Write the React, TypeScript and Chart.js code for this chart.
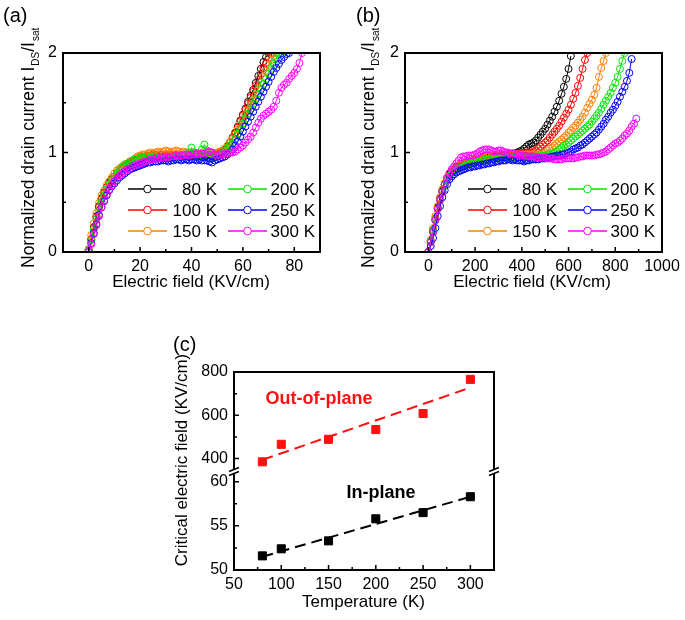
import React, { useEffect, useRef } from 'react';
import { Chart, registerables } from 'chart.js';

Chart.register(...registerables);

const FONT = '"Liberation Sans", Arial, Helvetica, sans-serif';
Chart.defaults.font.family = FONT;

// ---------- shared legend ----------
const tempLabels = ['80 K', '100 K', '150 K', '200 K', '250 K', '300 K'];
const seriesColors = ['#000000', '#ff0000', '#ff8000', '#00e600', '#0000ff', '#ff00ff'];

// ---------- panel (a): in-plane, field in KV/cm ----------
const fieldA = [
  0, 1, 2, 3, 4, 5, 6, 7, 8, 9, 10, 11, 12, 13, 14, 15, 16, 17, 18, 19,
  20, 21, 22, 23, 24, 25, 26, 27, 28, 29, 30, 31, 32, 33, 34, 35, 36, 37, 38, 39,
  40, 41, 42, 43, 44, 45, 46, 47, 48, 49, 50, 51, 52, 53, 54, 55, 56, 57, 58, 59,
  60, 61, 62, 63, 64, 65, 66, 67, 68, 69, 70, 71, 72, 73, 74, 75, 76, 77, 78, 79,
  80, 81, 82, 83,
];
const a80 = [
  0.02, 0.13, 0.25, 0.36, 0.46, 0.54, 0.6, 0.65, 0.7, 0.73,
  0.76, 0.79, 0.82, 0.84, 0.86, 0.88, 0.89, 0.91, 0.92, 0.93,
  0.94, 0.95, 0.95, 0.96, 0.96, 0.96, 0.97, 0.96, 0.97, 0.97,
  0.96, 0.97, 0.97, 0.96, 0.97, 0.97, 0.97, 0.96, 0.97, 0.97,
  0.96, 0.97, 0.97, 0.96, 0.97, 0.97, 0.96, 0.97, 0.97, 0.98,
  0.98, 0.99, 1.0, 1.03, 1.06, 1.1, 1.15, 1.2, 1.26, 1.32,
  1.38, 1.44, 1.51, 1.57, 1.63, 1.7, 1.77, 1.84, 1.91, 1.96,
  2.0,
];
const a100 = [
  0.02, 0.12, 0.24, 0.35, 0.45, 0.53, 0.59, 0.65, 0.69, 0.73,
  0.76, 0.79, 0.82, 0.84, 0.86, 0.88, 0.9, 0.91, 0.93, 0.94,
  0.95, 0.96, 0.96, 0.97, 0.97, 0.98, 0.97, 0.98, 0.98, 0.97,
  0.98, 0.98, 0.97, 0.98, 0.98, 0.98, 0.97, 0.98, 0.98, 0.97,
  0.98, 0.98, 0.97, 0.98, 0.98, 0.97, 0.97, 0.98, 0.98, 0.98,
  0.99, 1.0, 1.01, 1.03, 1.06, 1.1, 1.14, 1.19, 1.25, 1.31,
  1.37, 1.43, 1.49, 1.55, 1.61, 1.67, 1.73, 1.79, 1.85, 1.9,
  1.95, 2.0,
];
const a150 = [
  0.03, 0.17, 0.29, 0.39, 0.49, 0.57, 0.62, 0.67, 0.71, 0.75,
  0.79, 0.82, 0.84, 0.86, 0.88, 0.89, 0.91, 0.92, 0.94, 0.96,
  0.97, 0.98, 0.98, 0.99, 1.0, 0.99, 1.0, 1.01, 1.0, 1.01,
  1.02, 1.01, 1.0, 1.01, 1.02, 1.01, 1.0, 1.01, 1.0, 0.99,
  1.0, 1.0, 0.99, 1.0, 0.99, 0.99, 0.98, 0.99, 0.98, 0.99,
  1.0, 1.01, 1.02, 1.04, 1.07, 1.1, 1.14, 1.18, 1.23, 1.28,
  1.33, 1.38, 1.43, 1.48, 1.53, 1.58, 1.64, 1.7, 1.76, 1.82,
  1.88, 1.93, 1.97, 2.0,
];
const a200 = [
  0.02, 0.12, 0.23, 0.33, 0.42, 0.5, 0.57, 0.63, 0.68, 0.72,
  0.76, 0.79, 0.82, 0.85, 0.87, 0.89, 0.9, 0.92, 0.93, 0.94,
  0.95, 0.95, 0.96, 0.96, 0.95, 0.96, 0.96, 0.95, 0.95, 0.94,
  0.95, 0.95, 0.94, 0.95, 0.95, 0.95, 0.96, 0.96, 0.97, 1.0,
  1.05, 1.0, 0.96, 0.97, 1.03, 1.08, 1.02, 0.96, 0.95, 0.95,
  0.96, 0.97, 0.99, 1.02, 1.04, 1.07, 1.1, 1.14, 1.19, 1.24,
  1.29, 1.34, 1.39, 1.44, 1.49, 1.54, 1.59, 1.64, 1.69, 1.74,
  1.79, 1.84, 1.89, 1.94, 1.98, 2.0,
];
const a250 = [
  0.0, 0.09, 0.19, 0.28, 0.37, 0.45, 0.51, 0.57, 0.62, 0.66,
  0.69, 0.72, 0.75, 0.77, 0.79, 0.81, 0.83, 0.84, 0.85, 0.86,
  0.87, 0.88, 0.89, 0.9, 0.9, 0.91, 0.91, 0.91, 0.92, 0.92,
  0.92, 0.91, 0.92, 0.92, 0.93, 0.93, 0.92, 0.93, 0.93, 0.92,
  0.93, 0.93, 0.92, 0.93, 0.92, 0.92, 0.92, 0.91, 0.9, 0.92,
  0.93, 0.94, 0.95, 0.96, 0.98, 1.0, 1.03, 1.07, 1.11, 1.16,
  1.21, 1.26, 1.31, 1.36, 1.41, 1.46, 1.51, 1.56, 1.61, 1.66,
  1.71, 1.76, 1.81, 1.85, 1.89, 1.93, 1.96, 1.99, 2.0,
];
const a300 = [
  0.0, 0.08, 0.18, 0.27, 0.36, 0.45, 0.52, 0.58, 0.63, 0.67,
  0.71, 0.74, 0.77, 0.79, 0.81, 0.83, 0.84, 0.86, 0.87, 0.88,
  0.89, 0.9, 0.91, 0.92, 0.93, 0.93, 0.94, 0.94, 0.95, 0.95,
  0.96, 0.95, 0.96, 0.96, 0.97, 0.96, 0.97, 0.97, 0.98, 0.97,
  0.98, 0.98, 0.99, 0.98, 0.99, 0.99, 1.0, 1.01, 1.0, 0.98,
  0.97, 0.98, 0.98, 0.99, 0.99, 1.0, 1.0, 1.01, 1.03, 1.05,
  1.07, 1.1, 1.13, 1.16, 1.2, 1.25, 1.3, 1.34, 1.37, 1.39,
  1.41, 1.43, 1.46, 1.52, 1.6, 1.65, 1.68, 1.7, 1.74, 1.77,
  1.8, 1.84, 1.9, 2.0,
];

// ---------- panel (b): out-of-plane, field in KV/cm ----------
const fieldB = [
  0, 10, 20, 30, 40, 50, 60, 70, 80, 90, 100, 110, 120, 130, 140, 150, 160, 170, 180, 190,
  200, 210, 220, 230, 240, 250, 260, 270, 280, 290, 300, 310, 320, 330, 340, 350, 360, 370, 380, 390,
  400, 410, 420, 430, 440, 450, 460, 470, 480, 490, 500, 510, 520, 530, 540, 550, 560, 570, 580, 590,
  600, 610, 620, 630, 640, 650, 660, 670, 680, 690, 700, 710, 720, 730, 740, 750, 760, 770, 780, 790,
  800, 810, 820, 830, 840, 850, 860, 870, 880, 890,
];
const b80 = [
  0, 0.1, 0.2, 0.32, 0.44, 0.53, 0.61, 0.68, 0.74, 0.78,
  0.81, 0.83, 0.85, 0.86, 0.87, 0.88, 0.89, 0.9, 0.9, 0.91,
  0.92, 0.92, 0.93, 0.93, 0.94, 0.94, 0.95, 0.95, 0.96, 0.96,
  0.97, 0.97, 0.97, 0.98, 0.98, 0.98, 0.99, 0.99, 1.0, 1.01,
  1.02, 1.04, 1.06, 1.08, 1.09, 1.1, 1.12, 1.15, 1.18, 1.21,
  1.24, 1.28, 1.32, 1.36, 1.41, 1.46, 1.52, 1.59, 1.66, 1.74,
  1.84, 1.97,
];
const b100 = [
  0, 0.11, 0.22, 0.34, 0.45, 0.54, 0.62, 0.68, 0.73, 0.77,
  0.8, 0.82, 0.84, 0.85, 0.86, 0.87, 0.88, 0.89, 0.9, 0.9,
  0.91, 0.92, 0.92, 0.93, 0.93, 0.94, 0.94, 0.95, 0.95, 0.95,
  0.96, 0.96, 0.96, 0.97, 0.97, 0.97, 0.98, 0.98, 0.98, 0.99,
  0.99, 0.99, 1.0, 1.0, 1.0, 1.01, 1.02, 1.04, 1.06, 1.08,
  1.1, 1.12, 1.15, 1.18, 1.21, 1.24, 1.27, 1.31, 1.35, 1.39,
  1.43, 1.48, 1.54, 1.6, 1.67, 1.75, 1.84, 1.93, 2.0,
];
const b150 = [
  0, 0.12, 0.24, 0.36, 0.46, 0.55, 0.63, 0.69, 0.75, 0.79,
  0.82, 0.84, 0.86, 0.87, 0.88, 0.89, 0.9, 0.91, 0.92, 0.92,
  0.93, 0.94, 0.94, 0.95, 0.95, 0.96, 0.96, 0.96, 0.97, 0.97,
  0.97, 0.98, 0.98, 0.98, 0.98, 0.98, 0.98, 0.98, 0.98, 0.98,
  0.98, 0.98, 0.98, 0.98, 0.98, 0.98, 0.98, 0.98, 0.98, 0.99,
  1.0, 1.02, 1.04, 1.05, 1.07, 1.09, 1.11, 1.13, 1.15, 1.17,
  1.2, 1.22, 1.25, 1.27, 1.3, 1.33, 1.36, 1.4, 1.45, 1.49,
  1.53, 1.58, 1.65, 1.76, 1.85, 1.92, 2.0,
];
const b200 = [
  0, 0.11, 0.22, 0.33, 0.43, 0.52, 0.6, 0.67, 0.72, 0.76,
  0.79, 0.81, 0.83, 0.84, 0.85, 0.86, 0.87, 0.88, 0.89, 0.9,
  0.9, 0.91, 0.91, 0.92, 0.92, 0.93, 0.93, 0.94, 0.94, 0.94,
  0.95, 0.95, 0.95, 0.95, 0.95, 0.95, 0.95, 0.95, 0.95, 0.95,
  0.95, 0.95, 0.95, 0.95, 0.95, 0.95, 0.96, 0.96, 0.96, 0.97,
  0.97, 0.98, 0.98, 0.99, 1.0, 1.01, 1.03, 1.05, 1.07, 1.08,
  1.1, 1.12, 1.14, 1.16, 1.18, 1.2, 1.22, 1.24, 1.26, 1.28,
  1.31, 1.34, 1.37, 1.4, 1.44, 1.48, 1.52, 1.56, 1.6, 1.65,
  1.7, 1.76, 1.84, 1.92, 2.0,
];
const b250 = [
  0, 0.06, 0.14, 0.24, 0.36, 0.46, 0.55, 0.62, 0.68, 0.73,
  0.76, 0.78, 0.8, 0.81, 0.82, 0.83, 0.84, 0.85, 0.85, 0.86,
  0.86, 0.87, 0.87, 0.88, 0.88, 0.89, 0.89, 0.9, 0.9, 0.91,
  0.91, 0.92, 0.92, 0.92, 0.93, 0.93, 0.92, 0.93, 0.92, 0.92,
  0.92, 0.91, 0.92, 0.92, 0.93, 0.93, 0.93, 0.93, 0.94, 0.94,
  0.94, 0.95, 0.95, 0.96, 0.96, 0.97, 0.97, 0.98, 0.98, 0.99,
  1.0, 1.01, 1.03, 1.04, 1.05, 1.07, 1.08, 1.1, 1.12, 1.14,
  1.16, 1.18, 1.2, 1.23, 1.26, 1.29, 1.33, 1.36, 1.4, 1.43,
  1.47, 1.51, 1.56, 1.61, 1.66, 1.72, 1.8, 1.94,
];
const b300 = [
  0, 0.1, 0.2, 0.32, 0.43, 0.52, 0.6, 0.68, 0.74, 0.79,
  0.83, 0.86, 0.89, 0.92, 0.95, 0.96, 0.96, 0.97, 0.97, 0.97,
  0.98, 0.99, 1.01, 1.02, 1.03, 1.03, 1.03, 1.02, 1.01, 1.01,
  1.02, 1.02, 1.01, 1.0, 1.0, 0.99, 0.99, 0.99, 0.98, 0.97,
  0.97, 0.97, 0.96, 0.96, 0.96, 0.96, 0.95, 0.95, 0.95, 0.95,
  0.95, 0.94, 0.94, 0.94, 0.93, 0.93, 0.93, 0.93, 0.94, 0.94,
  0.94, 0.94, 0.94, 0.95, 0.95, 0.96, 0.96, 0.97, 0.97, 0.97,
  0.97, 0.97, 0.98, 0.98, 0.99, 1.0, 1.01, 1.03, 1.05, 1.07,
  1.09, 1.1, 1.12, 1.14, 1.17, 1.19, 1.22, 1.26, 1.29, 1.34,
];

// ---------- panel (c): critical field vs temperature ----------
const temps = [80, 100, 150, 200, 250, 300];
const outOfPlane = [385, 466, 489, 534, 608, 766];
const inPlane = [51.6, 52.4, 53.3, 55.8, 56.5, 58.3];
const outFitT = [80, 300];
const outFit = [394, 728];
const inFitT = [80, 300];
const inFit = [51.5, 58.3];

// ---------- tick values ----------
const aXMajor = [0, 20, 40, 60, 80];
const aXMinor = [10, 30, 50, 70];
const bXMajor = [0, 200, 400, 600, 800, 1000];
const bXMinor = [100, 300, 500, 700, 900];
const yMajor = [0, 1, 2];
const yMinor = [0.5, 1.5];
const cXMajor = [50, 100, 150, 200, 250, 300];
const cXMinor = [75, 125, 175, 225, 275];
const cUpMajor = [400, 600, 800];
const cUpMinor = [500, 700];
const cLowMajor = [50, 55, 60];
const cLowMinor = [52.5, 57.5];

// ---------- helpers ----------
const setTicks = (major: number[], minor: number[]) => (s: any) => {
  s.ticks = [...major, ...minor].sort((p, q) => p - q).map((v) => ({ value: v }));
};
const labelIf = (major: number[]) => (v: any) => (major.includes(Number(v)) ? String(v) : '');

function axis(min: number, max: number, major: number[], minor: number[], pad: number, extra: any) {
  return {
    type: 'linear',
    min,
    max,
    afterBuildTicks: setTicks(major, minor),
    grid: { display: false, drawTicks: false, tickLength: 0 },
    border: { display: false },
    ticks: {
      autoSkip: false,
      maxRotation: 0,
      minRotation: 0,
      padding: pad,
      color: '#000',
      font: { size: 16, family: FONT },
      callback: labelIf(major),
    },
    ...extra,
  };
}

function drawTickMarks(chart: any, id: string, major: number[], minor: number[]) {
  const s = chart.scales[id];
  const { ctx, chartArea: ca } = chart;
  ctx.save();
  ctx.strokeStyle = '#000';
  ctx.lineWidth = 1.5;
  ctx.beginPath();
  const put = (v: number, len: number) => {
    const p = s.getPixelForValue(v);
    if (s.isHorizontal()) {
      ctx.moveTo(p, ca.bottom);
      ctx.lineTo(p, ca.bottom - len);
    } else {
      ctx.moveTo(ca.left, p);
      ctx.lineTo(ca.left + len, p);
    }
  };
  major.forEach((v) => put(v, 5));
  minor.forEach((v) => put(v, 3));
  ctx.stroke();
  ctx.restore();
}

function drawFrame(chart: any) {
  const { ctx, chartArea: ca } = chart;
  ctx.save();
  ctx.strokeStyle = '#000';
  ctx.lineWidth = 2;
  ctx.strokeRect(ca.left, ca.top, ca.right - ca.left, ca.bottom - ca.top);
  ctx.restore();
}

function text(ctx: any, s: string, x: number, y: number, size: number, opts: any = {}) {
  ctx.save();
  ctx.font = `${opts.bold ? 'bold ' : ''}${size}px ${FONT}`;
  ctx.fillStyle = opts.color || '#000';
  ctx.textAlign = opts.align || 'center';
  ctx.textBaseline = 'middle';
  if (opts.rotate) {
    ctx.translate(x, y);
    ctx.rotate(-Math.PI / 2);
    ctx.fillText(s, 0, 0);
  } else {
    ctx.fillText(s, x, y);
  }
  ctx.restore();
}

function drawCurrentTitle(ctx: any, x: number, y: number) {
  const size = 17.5;
  const parts = [
    { t: 'Normalized drain current I', sub: false },
    { t: 'DS', sub: true },
    { t: '/I', sub: false },
    { t: 'sat', sub: true },
  ];
  ctx.save();
  ctx.translate(x, y);
  ctx.rotate(-Math.PI / 2);
  ctx.fillStyle = '#000';
  ctx.textAlign = 'left';
  ctx.textBaseline = 'alphabetic';
  let cx = 0;
  for (const p of parts) {
    ctx.font = `${p.sub ? 10 : size}px ${FONT}`;
    ctx.fillText(p.t, cx, p.sub ? 4.5 : 0);
    cx += ctx.measureText(p.t).width + (p.t.endsWith('I') && !p.sub ? 1 : 0);
  }
  ctx.restore();
}

function drawLegend(ctx: any) {
  const rows = [189, 210, 231];
  const cols = [
    { x0: 128, x1: 167, tx: 217 },
    { x0: 228, x1: 267, tx: 315 },
  ];
  tempLabels.forEach((lab, i) => {
    const c = cols[Math.floor(i / 3)];
    const y = rows[i % 3];
    const col = seriesColors[i];
    ctx.save();
    ctx.strokeStyle = col;
    ctx.lineWidth = 1.5;
    ctx.beginPath();
    ctx.moveTo(c.x0, y);
    ctx.lineTo(c.x1, y);
    ctx.stroke();
    ctx.beginPath();
    ctx.arc((c.x0 + c.x1) / 2, y, 3.8, 0, Math.PI * 2);
    ctx.fillStyle = '#fff';
    ctx.fill();
    ctx.lineWidth = 1;
    ctx.stroke();
    ctx.restore();
    text(ctx, lab, c.tx, y + 1, 17, { align: 'right' });
  });
}

function curveDatasets(xs: number[], series: number[][]) {
  return series.map((ys, i) => ({
    label: tempLabels[i],
    data: ys.map((y, j) => ({ x: xs[j], y })),
    showLine: true,
    borderColor: seriesColors[i],
    borderWidth: 1,
    pointRadius: 3.5,
    pointBorderWidth: 1,
    pointStyle: 'circle',
    pointBackgroundColor: 'rgba(0,0,0,0)',
    pointBorderColor: seriesColors[i],
    order: series.length - 1 - i,
  }));
}

function curveConfig(
  panel: string,
  xs: number[],
  series: number[][],
  xMin: number,
  xMax: number,
  xMajor: number[],
  xMinor: number[],
  pad: any,
  xTitleX: number,
): any {
  return {
    type: 'scatter',
    data: { datasets: curveDatasets(xs, series) },
    options: {
      responsive: false,
      maintainAspectRatio: false,
      animation: false,
      events: [],
      layout: { padding: pad },
      plugins: { legend: { display: false }, tooltip: { enabled: false } },
      scales: {
        x: axis(xMin, xMax, xMajor, xMinor, 5, { afterFit: (s: any) => { s.height = 30; } }),
        y: axis(0, 2, yMajor, yMinor, 6, { afterFit: (s: any) => { s.width = 40; } }),
      },
    },
    plugins: [
      {
        id: 'decor' + panel,
        afterDraw(chart: any) {
          const ctx = chart.ctx;
          drawFrame(chart);
          drawTickMarks(chart, 'x', xMajor, xMinor);
          drawTickMarks(chart, 'y', yMajor, yMinor);
          drawLegend(ctx);
          text(ctx, 'Electric field (KV/cm)', xTitleX, 282, 17);
          drawCurrentTitle(ctx, 34, 268);
          text(ctx, '(' + panel + ')', panel === 'a' ? 3 : 16, 16, 20, { align: 'left' });
        },
      },
    ],
  };
}

function configA() {
  return curveConfig('a', fieldA, [a80, a100, a150, a200, a250, a300], -10, 90, aXMajor, aXMinor,
    { left: 23, top: 53, right: 20, bottom: 18 }, 191);
}

function configB() {
  return curveConfig('b', fieldB, [b80, b100, b150, b200, b250, b300], -100, 1000, bXMajor, bXMinor,
    { left: 25, top: 53, right: 23, bottom: 18 }, 192);
}

function configC(): any {
  const red = '#ff1010';
  const pts = (xs: number[], ys: number[]) => ys.map((y, i) => ({ x: xs[i], y }));
  return {
    type: 'scatter',
    data: {
      datasets: [
        {
          label: 'Out-of-plane',
          data: pts(temps, outOfPlane),
          yAxisID: 'yUp',
          pointStyle: 'rect',
          pointRadius: 5.7,
          backgroundColor: red,
          borderColor: red,
          showLine: false,
          order: 0,
        },
        {
          label: 'Out-of-plane fit',
          data: pts(outFitT, outFit),
          yAxisID: 'yUp',
          showLine: true,
          borderColor: red,
          borderWidth: 2,
          borderDash: [11, 6],
          pointRadius: 0,
          order: 1,
        },
        {
          label: 'In-plane',
          data: pts(temps, inPlane),
          yAxisID: 'yLow',
          pointStyle: 'rect',
          pointRadius: 5.7,
          backgroundColor: '#000',
          borderColor: '#000',
          showLine: false,
          order: 0,
        },
        {
          label: 'In-plane fit',
          data: pts(inFitT, inFit),
          yAxisID: 'yLow',
          showLine: true,
          borderColor: '#000',
          borderWidth: 2,
          borderDash: [11, 6],
          pointRadius: 0,
          order: 1,
        },
      ],
    },
    options: {
      responsive: false,
      maintainAspectRatio: false,
      animation: false,
      events: [],
      layout: { padding: { left: 24, top: 52, right: 46, bottom: 20 } },
      plugins: { legend: { display: false }, tooltip: { enabled: false } },
      scales: {
        x: axis(50, 325, cXMajor, cXMinor, 5, { afterFit: (s: any) => { s.height = 30; } }),
        yLow: axis(50, 61.1, cLowMajor, cLowMinor, 6, {
          axis: 'y', position: 'left', stack: 'c', stackWeight: 98,
          afterFit: (s: any) => { s.width = 50; },
        }),
        yUp: axis(338, 800, cUpMajor, cUpMinor, 6, {
          axis: 'y', position: 'left', stack: 'c', stackWeight: 100,
          afterFit: (s: any) => { s.width = 50; },
        }),
      },
    },
    plugins: [
      {
        id: 'decorC',
        afterDraw(chart: any) {
          const ctx = chart.ctx;
          const ca = chart.chartArea;
          drawFrame(chart);
          drawTickMarks(chart, 'x', cXMajor, cXMinor);
          drawTickMarks(chart, 'yUp', cUpMajor, cUpMinor);
          drawTickMarks(chart, 'yLow', cLowMajor, cLowMinor);
          // axis break marks
          const yb = chart.scales.yUp.bottom;
          [ca.left, ca.right].forEach((xb: number) => {
            ctx.save();
            ctx.fillStyle = '#fff';
            ctx.fillRect(xb - 2, yb - 2.5, 4, 4);
            ctx.strokeStyle = '#000';
            ctx.lineWidth = 1.5;
            ctx.beginPath();
            ctx.moveTo(xb - 5, yb - 0.5);
            ctx.lineTo(xb + 5, yb - 4.5);
            ctx.moveTo(xb - 5, yb + 3.5);
            ctx.lineTo(xb + 5, yb - 0.5);
            ctx.stroke();
            ctx.restore();
          });
          text(ctx, 'Temperature (K)', 203.5, 282, 17);
          text(ctx, 'Critical electric field (KV/cm)', 22, 140, 17, { rotate: true });
          text(ctx, 'Out-of-plane', 159, 79, 18, { bold: true, color: red });
          text(ctx, 'In-plane', 221, 173, 18, { bold: true });
          text(ctx, '(c)', 13, 25, 20, { align: 'left' });
        },
      },
    ],
  };
}

function ChartCanvas({ left, top, width, height, make }: any) {
  const ref = useRef<HTMLCanvasElement>(null);
  useEffect(() => {
    const chart = new Chart(ref.current as HTMLCanvasElement, make());
    return () => chart.destroy();
  }, []);
  return (
    <canvas
      ref={ref}
      width={width}
      height={height}
      style={{ position: 'absolute', left, top, width, height }}
    />
  );
}

export default function App() {
  return (
    <div style={{ position: 'fixed', left: 0, top: 0, width: 685, height: 620, background: '#fff' }}>
      <ChartCanvas left={0} top={0} width={340} height={300} make={configA} />
      <ChartCanvas left={340} top={0} width={345} height={300} make={configB} />
      <ChartCanvas left={160} top={320} width={380} height={300} make={configC} />
    </div>
  );
}
